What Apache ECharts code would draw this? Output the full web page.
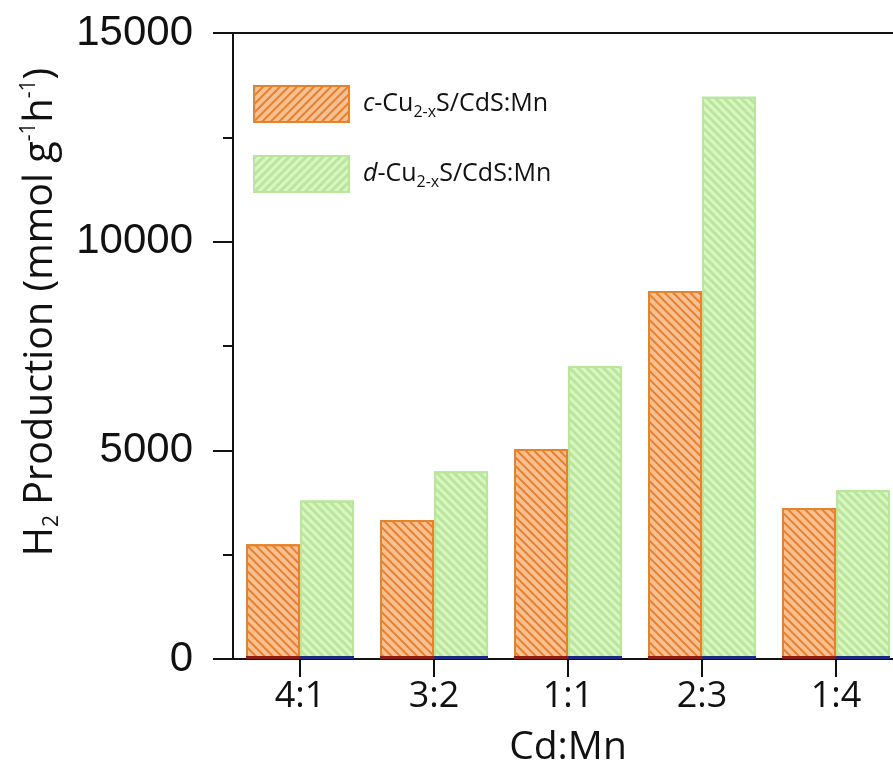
<!DOCTYPE html>
<html>
<head>
<meta charset="utf-8">
<script src="https://cdn.jsdelivr.net/npm/echarts@6/dist/echarts.min.js"></script>
<style>html,body{margin:0;padding:0;background:#fff;}#c{width:893px;height:767px;}</style>
</head>
<body>
<div id="c"></div>
<script>
const categories = ['4:1', '3:2', '1:1', '2:3', '1:4'];
const cSeries = [2750, 3330, 5030, 8820, 3620];
const dSeries = [3800, 4500, 7020, 13470, 4050];
const baseMark = [70, 70, 70, 70, 70];
const yTicks = [0, 5000, 10000, 15000];

const chart = echarts.init(document.getElementById('c'));
const sans = 'Open Sans';
const orangeDecal = {symbol: 'rect', symbolSize: 1, dashArrayX: [1, 0], dashArrayY: [1.8, 3.2], rotation: Math.PI / 4, color: '#E6802F'};
const greenDecal = {symbol: 'rect', symbolSize: 1, dashArrayX: [1, 0], dashArrayY: [2.4, 2.6], rotation: Math.PI / 4, color: '#BAE69B'};
const legendRich = {
  i: {fontFamily: sans, fontSize: 25, fontStyle: 'italic', color: '#111', lineHeight: 32},
  t: {fontFamily: sans, fontSize: 25, color: '#111', lineHeight: 32},
  sub: {fontFamily: sans, fontSize: 16, color: '#111', lineHeight: 12, verticalAlign: 'bottom'}
};
chart.setOption({
  animation: false,
  backgroundColor: '#fff',
  grid: {left: 233, top: 33, width: 670, height: 626, containLabel: false, outerBoundsMode: 'none'},
  legend: {
    orient: 'vertical', left: 253, top: 85, padding: 0, icon: 'rect',
    itemWidth: 95, itemHeight: 36, itemGap: 32,
    data: [
      {name: 'c', itemStyle: {decal: Object.assign({}, orangeDecal, {rotation: -Math.PI / 4})}},
      {name: 'd', itemStyle: {decal: Object.assign({}, greenDecal, {rotation: -Math.PI / 4})}}
    ],
    formatter: function (n) { return '{i|' + n + '}{t|-Cu}{sub|2-x}{t|S/CdS:Mn}'; },
    textStyle: {rich: legendRich, padding: [0, 0, 0, 9]}
  },
  xAxis: [{
    type: 'category', data: categories, position: 'bottom',
    axisLine: {show: true, lineStyle: {color: '#111', width: 2}},
    axisTick: {show: true, alignWithLabel: true, length: 18, lineStyle: {color: '#111', width: 2}},
    axisLabel: {fontFamily: sans, fontSize: 36, color: '#111', margin: 20},
    name: 'Cd:Mn', nameLocation: 'middle', nameGap: 69,
    nameTextStyle: {fontFamily: sans, fontSize: 39, color: '#111'}
  }, {
    type: 'category', data: categories, position: 'top',
    axisLine: {show: true, lineStyle: {color: '#111', width: 2}},
    axisTick: {show: false}, axisLabel: {show: false}
  }],
  yAxis: {
    type: 'value', min: 0, max: 15000, interval: 5000,
    axisLine: {show: true, lineStyle: {color: '#111', width: 2}},
    axisTick: {show: true, inside: false, length: 20, lineStyle: {color: '#111', width: 2}},
    minorTick: {show: true, splitNumber: 2, length: 10, lineStyle: {color: '#111', width: 2}},
    splitLine: {show: false},
    axisLabel: {fontFamily: 'Liberation Sans', fontSize: 42, color: '#111', margin: 40,
      formatter: function (v) { return yTicks.indexOf(v) >= 0 ? String(v) : ''; }},
    name: 'H{sub|2} Production (mmol g{sup|-1}h{sup|-1})',
    nameLocation: 'middle', nameGap: 170,
    nameTextStyle: {
      fontFamily: sans, fontSize: 39.5, color: '#111', lineHeight: 44, padding: [0, 0, 0, 68],
      rich: {
        sub: {fontFamily: sans, fontSize: 21, color: '#111', lineHeight: 20, verticalAlign: 'bottom'},
        sup: {fontFamily: sans, fontSize: 21, color: '#111', lineHeight: 20, verticalAlign: 'top'}
      }
    }
  },
  series: [{
    name: 'c', type: 'bar', data: cSeries, barWidth: 54, barGap: '0%',
    itemStyle: {color: '#F9C192', borderColor: '#E8822A', borderWidth: 2, decal: orangeDecal}
  }, {
    name: 'd', type: 'bar', data: dSeries, barWidth: 54, barGap: '0%',
    itemStyle: {color: '#D8F5C2', borderColor: '#B8E69A', borderWidth: 2, decal: greenDecal}
  }, {
    name: 'cb', type: 'bar', xAxisIndex: 1, data: baseMark, barWidth: 54, barGap: '0%', z: 5,
    itemStyle: {color: '#8E1C14'}
  }, {
    name: 'db', type: 'bar', xAxisIndex: 1, data: baseMark, barWidth: 54, barGap: '0%', z: 5,
    itemStyle: {color: '#1E2A82'}
  }]
});
</script>
</body>
</html>
